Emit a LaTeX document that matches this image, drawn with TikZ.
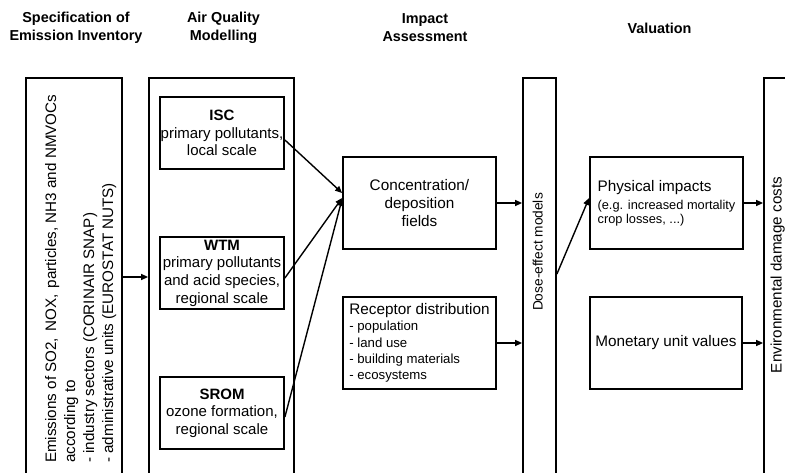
\documentclass[tikz,border=0pt]{standalone}
\usepackage{fontspec}
\setmainfont{Liberation Sans}
\usetikzlibrary{arrows.meta}
\begin{document}
\begin{tikzpicture}[x=1pt,y=-1pt,
  frame/.style={draw, line width=1.8pt, inner sep=0pt},
  box/.style={frame, align=center, font=\fontsize{15.3}{18}\selectfont},
  col/.style={frame, minimum height=398pt},
  flow/.style={line width=1.4pt, -{Triangle[length=7pt,width=6pt]}},
  head/.style={inner sep=0pt, align=center, font=\bfseries\fontsize{14.4}{18}\selectfont},
  vtext/.style={inner sep=0pt, rotate=90},
  model/.style={box, minimum width=124pt, minimum height=72pt, font=\fontsize{15}{17.6}\selectfont}
]
\useasboundingbox (0,0) rectangle (785,472);
\fill[white] (0,0) rectangle (785,472);

% stage headings
\node[head] (h1) at (76,28) {Specification of\\Emission Inventory};
\node[head] (h2) at (223.5,28) {Air Quality\\Modelling};
\node[head] (h3) at (425,28) {Impact\\Assessment};
\node[head] (h4) at (659.5,28) {Valuation};

\begin{scope}
\clip (0,0) rectangle (785,472);

% tall columns running off the lower edge
\node[col, minimum width=96pt]  (emis) at (74,277) {};
\node[col, minimum width=145pt] (aq)   at (221.5,277) {};
\node[col, minimum width=33pt]  (dose) at (539.5,277) {};
\node[col, minimum width=33pt]  (env)  at (780.5,277) {};

% column captions
\node[vtext, anchor=north west, align=left, font=\fontsize{15.2}{19}\selectfont] (emistext) at (45,463)
  {Emissions of SO2,\hspace{2pt} NOX,\hspace{2pt} particles, NH3 and NMVOCs\\according to\\- industry sectors (CORINAIR SNAP)\\- administrative units (EUROSTAT NUTS)};
\node[vtext, anchor=base, font=\fontsize{13.7}{16}\selectfont] (dosetext) at (542.5,252) {Dose-effect models};
\node[vtext, anchor=base, font=\fontsize{15.2}{18}\selectfont] (envtext) at (781.5,275) {Environmental damage costs};

% dispersion models
\node[model] (isc)  at (222,133) {\textbf{ISC}\\primary pollutants,\\local scale};
\node[model] (wtm)  at (222,273) {\textbf{WTM}\\primary pollutants\\and acid species,\\regional scale};
\node[model] (srom) at (222,413) {\textbf{SROM}\\ozone formation,\\regional scale};

% impact assessment
\node[box, minimum width=153pt, minimum height=92pt] (conc) at (419.5,203) {Concentration/\\deposition\\fields};
\node[box, align=left, minimum width=153pt, minimum height=92pt, font=\fontsize{13.2}{16.2}\selectfont] (recep) at (419.5,343)
  {{\fontsize{15.3}{16.2}\selectfont Receptor distribution}\\- population\\- land use\\- building materials\\- ecosystems};

% valuation
\node[box, align=left, minimum width=153pt, minimum height=92pt, font=\fontsize{12.8}{14}\selectfont] (phys) at (666.5,203)
  {{\fontsize{15.3}{14}\selectfont Physical impacts}\\[4pt](e.g. increased mortality\\crop losses, ...)};
\node[box, minimum width=152pt, minimum height=92pt] (mon) at (666,343) {Monetary unit values};

% connectors
\draw[flow] (emis.east) -- (aq.west);
\draw[flow] ([yshift=-7pt]isc.east) -- ([yshift=10pt]conc.west);
\draw[flow] ([yshift=-5pt]wtm.east) -- ([yshift=5pt]conc.west);
\draw[flow] ([yshift=-4pt]srom.east) -- ([yshift=4pt]conc.west);
\draw[flow] (conc.east) -- (conc.east -| dose.west);
\draw[flow] (recep.east) -- (recep.east -| dose.west);
\draw[flow] ([yshift=3pt]dose.east) -- ([yshift=5pt]phys.west);
\draw[flow] (phys.east) -- (phys.east -| env.west);
\draw[flow] (mon.east) -- (mon.east -| env.west);
\end{scope}
\end{tikzpicture}
\end{document}
